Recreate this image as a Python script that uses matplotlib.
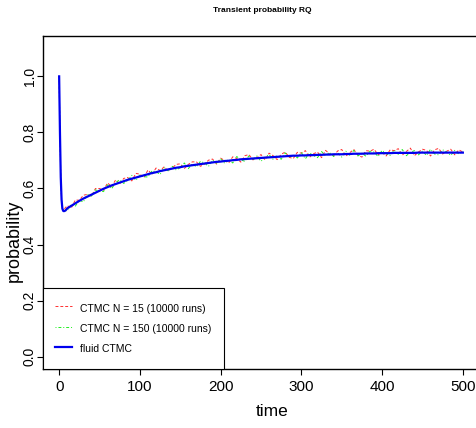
import numpy as np
import matplotlib
matplotlib.use("Agg")
from matplotlib import pyplot as plt

plt.rcParams['font.family'] = ['Liberation Sans', 'DejaVu Sans']

# time grids
t_early = [0, 1, 2, 3, 4, 5]
t_sim = list(range(10, 505, 5))
t_fluid = [0, 1, 2, 3, 4, 5, 6, 8] + t_sim

# fluid CTMC
fluid = [1.000, 0.800, 0.640, 0.560, 0.528, 0.520, 0.519, 0.522,
         0.529, 0.538, 0.547, 0.556, 0.564, 0.571, 0.578, 0.585, 0.592, 0.599,
         0.605, 0.611, 0.616, 0.621, 0.626, 0.631, 0.635, 0.639, 0.643, 0.647,
         0.651, 0.655, 0.658, 0.662, 0.665, 0.668, 0.671, 0.674, 0.676, 0.679,
         0.681, 0.683, 0.685, 0.687, 0.689, 0.691, 0.693, 0.695, 0.696, 0.698,
         0.699, 0.701, 0.702, 0.704, 0.705, 0.706, 0.707, 0.708, 0.709, 0.710,
         0.711, 0.712, 0.713, 0.714, 0.715, 0.716, 0.717, 0.717, 0.718, 0.718,
         0.719, 0.719, 0.720, 0.720, 0.721, 0.721, 0.722, 0.722, 0.722, 0.723,
         0.723, 0.724, 0.724, 0.724, 0.725, 0.725, 0.725, 0.726, 0.726, 0.726,
         0.726, 0.727, 0.727, 0.727, 0.727, 0.727, 0.727, 0.728, 0.728, 0.728,
         0.728, 0.728, 0.728, 0.728, 0.728, 0.728, 0.728, 0.728, 0.728]

# CTMC N = 15 (10000 runs)
ctmc15 = [1.000, 0.790, 0.635, 0.558, 0.530, 0.522,
          0.539, 0.530, 0.559, 0.558, 0.576, 0.579, 0.573, 0.600, 0.600, 0.594,
          0.620, 0.606, 0.631, 0.616, 0.636, 0.639, 0.627, 0.654, 0.651, 0.639,
          0.666, 0.650, 0.673, 0.664, 0.677, 0.663, 0.673, 0.686, 0.688, 0.671,
          0.686, 0.695, 0.695, 0.679, 0.687, 0.701, 0.705, 0.687, 0.708, 0.700,
          0.691, 0.713, 0.707, 0.694, 0.717, 0.721, 0.702, 0.710, 0.721, 0.702,
          0.726, 0.717, 0.703, 0.722, 0.730, 0.711, 0.707, 0.729, 0.726, 0.735,
          0.711, 0.724, 0.730, 0.710, 0.736, 0.723, 0.717, 0.734, 0.739, 0.715,
          0.728, 0.739, 0.719, 0.712, 0.735, 0.733, 0.740, 0.721, 0.728, 0.716,
          0.738, 0.735, 0.742, 0.719, 0.732, 0.744, 0.717, 0.730, 0.740, 0.736,
          0.716, 0.738, 0.743, 0.723, 0.733, 0.740, 0.720, 0.738, 0.730]

# CTMC N = 150 (10000 runs)
ctmc150 = [1.000, 0.800, 0.640, 0.562, 0.527, 0.519,
           0.521, 0.543, 0.537, 0.558, 0.552, 0.579, 0.573, 0.595, 0.590, 0.589,
           0.613, 0.599, 0.621, 0.631, 0.618, 0.629, 0.647, 0.629, 0.648, 0.642,
           0.641, 0.663, 0.660, 0.650, 0.675, 0.663, 0.679, 0.666, 0.674, 0.691,
           0.671, 0.688, 0.677, 0.697, 0.691, 0.679, 0.701, 0.690, 0.706, 0.690,
           0.704, 0.691, 0.714, 0.702, 0.697, 0.716, 0.702, 0.716, 0.697, 0.712,
           0.721, 0.704, 0.718, 0.704, 0.727, 0.711, 0.719, 0.709, 0.728, 0.706,
           0.727, 0.717, 0.710, 0.732, 0.716, 0.729, 0.714, 0.727, 0.712, 0.733,
           0.718, 0.736, 0.716, 0.726, 0.715, 0.733, 0.730, 0.714, 0.736, 0.724,
           0.718, 0.737, 0.722, 0.739, 0.717, 0.729, 0.735, 0.720, 0.733, 0.718,
           0.740, 0.723, 0.720, 0.738, 0.730, 0.718, 0.736, 0.723, 0.733]

fig = plt.figure(figsize=(4.77, 4.28), dpi=100)
ax = fig.add_axes([43/477, 59/428, 436/477, 333/428])

t_all = t_early + t_sim
ax.plot(t_all, ctmc15, color='#ff3030', ls=(0, (3, 2)), lw=0.7,
        label='CTMC N = 15 (10000 runs)')
ax.plot(t_all, ctmc150, color='#22ee22', ls=(0, (1, 2, 3, 2)), lw=0.7,
        label='CTMC N = 150 (10000 runs)')
ax.plot(t_fluid, fluid, color='#0000ee', lw=1.6, label='fluid CTMC')

ax.set_xlim(-20, 520)
ax.set_ylim(-0.044, 1.144)
ax.set_xticks([0, 100, 200, 300, 400, 500])
ax.set_yticks([0.0, 0.2, 0.4, 0.6, 0.8, 1.0])
ax.set_yticklabels(['0.0', '0.2', '0.4', '0.6', '0.8', '1.0'], rotation=90, va='center')
ax.tick_params(direction='out', length=4.5, width=0.8)
ax.tick_params(axis='x', labelsize=11, pad=3.5)
ax.tick_params(axis='y', labelsize=10, pad=0)
for s in ax.spines.values():
    s.set_linewidth(1.0)

fig.text(272/477, 1 - 411/428, 'time', fontsize=12.5, ha='center', va='center')
fig.text(14/477, 1 - 241/428, 'probability', fontsize=13, rotation=90,
         ha='center', va='center')
fig.text(262/477, 1 - 11/428, 'Transient probability RQ', fontsize=6,
         fontweight='bold', ha='center', va='center')

leg = ax.legend(loc='lower left', borderaxespad=0, fancybox=False, fontsize=7.5,
                handlelength=1.6, handleheight=1.9, handletextpad=0.8,
                borderpad=1.2, labelspacing=0.45,
                edgecolor='black', framealpha=1)
leg.get_frame().set_linewidth(0.8)

fig.savefig('out.png', dpi=100)
